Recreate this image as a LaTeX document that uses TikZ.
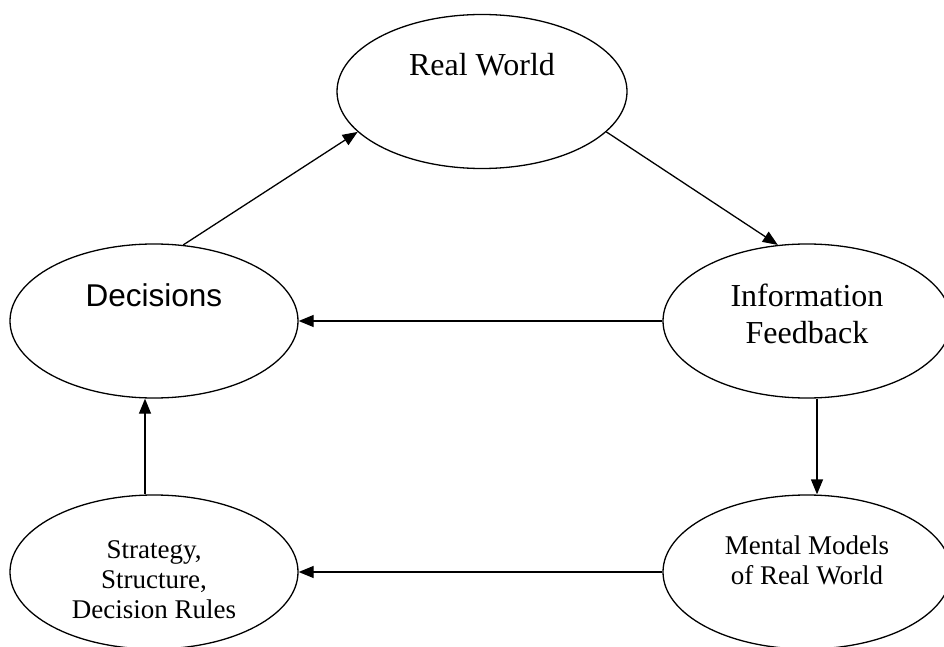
\documentclass[tikz,border=0pt]{standalone}
\usepackage{fontspec}
\setmainfont{Liberation Serif}
\newfontfamily\arialfont{Liberation Sans}
\usetikzlibrary{shapes.geometric}
\usetikzlibrary{arrows.meta}
\tikzset{
  bubble/.style={ellipse, draw, line width=1.3pt, minimum width=288pt, minimum height=154pt, inner sep=0pt},
  flow/.style={-{Triangle[length=15pt,width=12pt]}, line width=1.3pt},
  bigtext/.style={font=\fontsize{32}{37}\selectfont, align=center},
  smalltext/.style={font=\fontsize{27}{30}\selectfont, align=center}
}

\begin{document}
\begin{tikzpicture}[x=1pt,y=1pt]
\clip (0,0) rectangle (944,646);
\node[bubble, minimum width=290pt] (world) at (482,554.5) {};
\node[bubble] (decide) at (154,325) {};
\node[bubble] (info) at (807,325) {};
\node[bubble] (mental) at (807,74) {};
\node[bubble] (rules) at (154,74) {};

\node[bigtext] (worldtxt) at (482,581) {Real World};
\node[bigtext, font=\arialfont\fontsize{31.5}{37}\selectfont] (decidetxt) at (154,351) {Decisions};
\node[bigtext] (infotxt) at (807,332.5) {Information\\Feedback};
\node[smalltext] (mentaltxt) at (807,86) {Mental Models\\of Real World};
\node[smalltext] (rulestxt) at (154,66) {Strategy,\\Structure,\\Decision Rules};

\draw[flow] (decide.69) -- (world.198);
\draw[flow] (world.342) -- (info.111);
\draw[flow] (info) -- (decide);
\draw[flow] ([xshift=10pt]info.south) -- ([xshift=10pt]mental.north);
\draw[flow] (mental) -- (rules);
\draw[flow] ([xshift=-9pt]rules.north) -- ([xshift=-9pt]decide.south);
\end{tikzpicture}
\end{document}
